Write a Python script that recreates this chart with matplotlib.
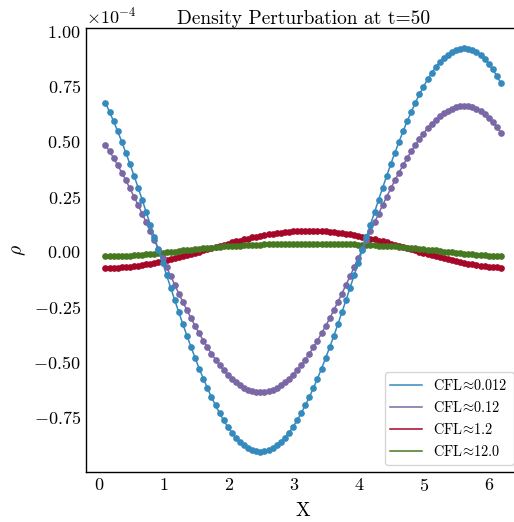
import matplotlib
matplotlib.use('Agg')
import matplotlib.pyplot as plt

# grid positions (X)
x = [0.094, 0.157, 0.220, 0.283, 0.346, 0.408, 0.471, 0.534, 0.597, 0.660,
     0.723, 0.785, 0.848, 0.911, 0.974, 1.037, 1.100, 1.162, 1.225, 1.288,
     1.351, 1.414, 1.477, 1.539, 1.602, 1.665, 1.728, 1.791, 1.854, 1.916,
     1.979, 2.042, 2.105, 2.168, 2.231, 2.293, 2.356, 2.419, 2.482, 2.545,
     2.608, 2.670, 2.733, 2.796, 2.859, 2.922, 2.985, 3.047, 3.110, 3.173,
     3.236, 3.299, 3.362, 3.424, 3.487, 3.550, 3.613, 3.676, 3.738, 3.801,
     3.864, 3.927, 3.990, 4.053, 4.115, 4.178, 4.241, 4.304, 4.367, 4.430,
     4.492, 4.555, 4.618, 4.681, 4.744, 4.807, 4.869, 4.932, 4.995, 5.058,
     5.121, 5.184, 5.246, 5.309, 5.372, 5.435, 5.498, 5.561, 5.623, 5.686,
     5.749, 5.812, 5.875, 5.938, 6.000, 6.063, 6.126, 6.189]

# density perturbation, units of 1e-4
rho_0012 = [0.675, 0.634, 0.591, 0.546, 0.498, 0.449, 0.398, 0.345, 0.291, 0.236,
            0.179, 0.123, 0.065, 0.008, -0.049, -0.107, -0.163, -0.220, -0.275, -0.329,
            -0.382, -0.433, -0.482, -0.530, -0.575, -0.618, -0.659, -0.697, -0.732, -0.765,
            -0.794, -0.820, -0.843, -0.862, -0.878, -0.891, -0.900, -0.905, -0.907, -0.905,
            -0.900, -0.891, -0.878, -0.862, -0.843, -0.820, -0.794, -0.765, -0.732, -0.697,
            -0.659, -0.618, -0.575, -0.530, -0.482, -0.433, -0.382, -0.329, -0.275, -0.220,
            -0.163, -0.107, -0.049, 0.008, 0.065, 0.123, 0.179, 0.236, 0.291, 0.345,
            0.398, 0.449, 0.498, 0.546, 0.591, 0.634, 0.675, 0.713, 0.748, 0.781,
            0.810, 0.836, 0.859, 0.878, 0.894, 0.907, 0.916, 0.921, 0.923, 0.921,
            0.916, 0.906, 0.892, 0.875, 0.853, 0.827, 0.797, 0.764]
rho_012 = [0.484, 0.455, 0.425, 0.392, 0.359, 0.324, 0.287, 0.250, 0.212, 0.172,
           0.133, 0.092, 0.052, 0.011, -0.030, -0.070, -0.111, -0.150, -0.190, -0.228,
           -0.265, -0.302, -0.337, -0.370, -0.403, -0.433, -0.462, -0.489, -0.514, -0.537,
           -0.558, -0.576, -0.592, -0.606, -0.618, -0.627, -0.633, -0.637, -0.638, -0.637,
           -0.633, -0.627, -0.618, -0.606, -0.592, -0.576, -0.558, -0.537, -0.514, -0.489,
           -0.462, -0.433, -0.403, -0.370, -0.337, -0.302, -0.265, -0.228, -0.190, -0.150,
           -0.111, -0.070, -0.030, 0.011, 0.052, 0.092, 0.133, 0.172, 0.212, 0.250,
           0.287, 0.324, 0.359, 0.392, 0.425, 0.455, 0.484, 0.511, 0.536, 0.559,
           0.580, 0.598, 0.614, 0.628, 0.640, 0.649, 0.655, 0.659, 0.660, 0.659,
           0.655, 0.648, 0.638, 0.624, 0.607, 0.587, 0.564, 0.540]
rho_12 = [-0.073, -0.073, -0.072, -0.072, -0.070, -0.069, -0.067, -0.065, -0.063, -0.060,
          -0.057, -0.054, -0.050, -0.047, -0.043, -0.038, -0.034, -0.029, -0.025, -0.020,
          -0.015, -0.010, -0.005, 0.000, 0.006, 0.011, 0.016, 0.022, 0.027, 0.032,
          0.037, 0.042, 0.047, 0.051, 0.056, 0.060, 0.065, 0.068, 0.072, 0.076,
          0.079, 0.082, 0.085, 0.087, 0.089, 0.091, 0.092, 0.094, 0.094, 0.095,
          0.095, 0.095, 0.094, 0.094, 0.092, 0.091, 0.089, 0.087, 0.085, 0.082,
          0.079, 0.076, 0.072, 0.068, 0.065, 0.060, 0.056, 0.051, 0.047, 0.042,
          0.037, 0.032, 0.027, 0.022, 0.016, 0.011, 0.006, 0.000, -0.005, -0.010,
          -0.015, -0.020, -0.025, -0.029, -0.034, -0.038, -0.043, -0.047, -0.050, -0.054,
          -0.057, -0.060, -0.063, -0.065, -0.067, -0.069, -0.070, -0.072]
rho_120 = [-0.021, -0.021, -0.021, -0.020, -0.019, -0.019, -0.018, -0.016, -0.015, -0.014,
           -0.012, -0.010, -0.009, -0.007, -0.005, -0.003, -0.001, 0.001, 0.004, 0.006,
           0.008, 0.010, 0.012, 0.014, 0.016, 0.017, 0.019, 0.021, 0.022, 0.024,
           0.025, 0.026, 0.027, 0.028, 0.029, 0.030, 0.031, 0.032, 0.032, 0.033,
           0.033, 0.034, 0.034, 0.034, 0.034, 0.035, 0.035, 0.035, 0.035, 0.035,
           0.035, 0.035, 0.035, 0.035, 0.035, 0.035, 0.034, 0.034, 0.034, 0.034,
           0.033, 0.033, 0.032, 0.032, 0.031, 0.030, 0.029, 0.028, 0.027, 0.026,
           0.025, 0.024, 0.022, 0.021, 0.019, 0.017, 0.016, 0.014, 0.012, 0.010,
           0.008, 0.006, 0.004, 0.001, -0.001, -0.003, -0.005, -0.007, -0.009, -0.010,
           -0.012, -0.014, -0.015, -0.016, -0.018, -0.019, -0.019, -0.020]

labels = [r'CFL$\!\approx\!$0.012', r'CFL$\!\approx\!$0.12',
          r'CFL$\!\approx\!$1.2', r'CFL$\!\approx\!$12.0']
colores = ['#348ABD', '#7A68A6', '#A60628', '#467821']
capas = [5, 4, 2, 3]

plt.rcParams['font.family'] = 'serif'
plt.rcParams['font.serif'] = ['cmr10']
plt.rcParams['mathtext.fontset'] = 'cm'
plt.rcParams['axes.formatter.use_mathtext'] = True

fig = plt.figure(figsize=(5.14, 5.22), dpi=100)
ax = fig.add_axes([0.1667, 0.0958, 0.8463, 0.8506])

for serie, lab, col, z in zip([rho_0012, rho_012, rho_12, rho_120], labels, colores, capas):
    yy = [v * 1e-4 for v in serie]
    ax.plot(x, yy, color=col, lw=1.1, label=lab, zorder=z)
    ax.plot(x, yy, 'o', color=col, ms=3.8, zorder=z)

ax.ticklabel_format(axis='y', style='sci', scilimits=(0, 0))
ax.set_title('Density Perturbation at t=50', fontsize=14, pad=2)
ax.set_xlabel('X', fontsize=14, labelpad=6)
ax.set_ylabel(r'$\rho$', fontsize=14, labelpad=4)
ax.tick_params(length=0, labelsize=13)
ax.yaxis.get_offset_text().set_fontsize(13)
for s in ax.spines.values():
    s.set_color('black')
    s.set_linewidth(1.0)

ax.legend(loc='lower right', fontsize=10.3, edgecolor='#cccccc', handlelength=2.2,
          labelspacing=0.5)

fig.savefig('out.png', dpi=100)
